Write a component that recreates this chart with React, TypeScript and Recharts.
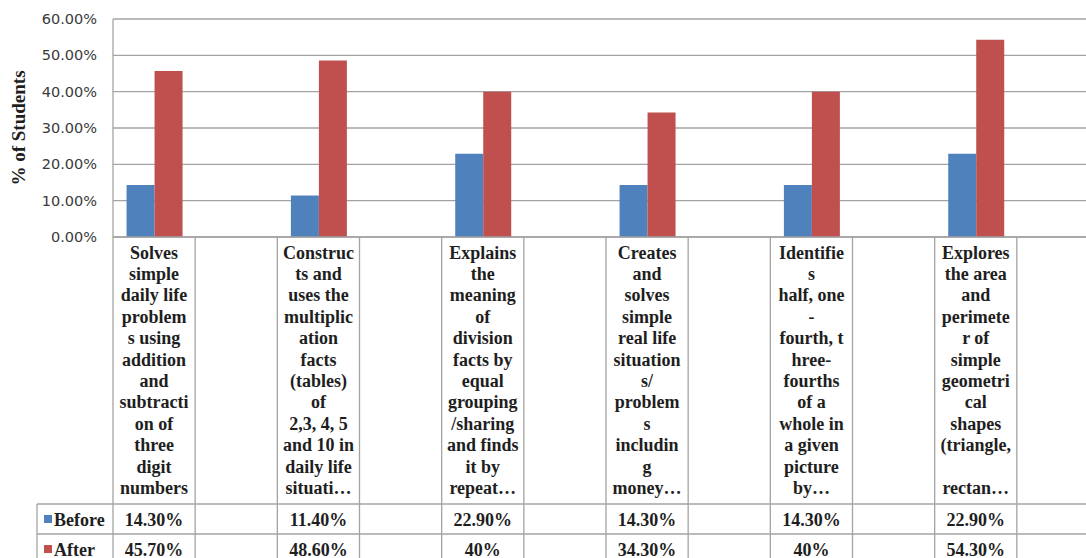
import { BarChart, Bar, XAxis, YAxis, CartesianGrid } from 'recharts';

// Skill descriptions, wrapped line by line as they appear in the data table
const skills: string[][] = [
  ['Solves', 'simple', 'daily life', 'problem', 's using', 'addition', 'and', 'subtracti', 'on of', 'three', 'digit', 'numbers'],
  ['Construc', 'ts and', 'uses the', 'multiplic', 'ation', 'facts', '(tables)', 'of', '2,3, 4, 5', 'and 10 in', 'daily life', 'situati…'],
  ['Explains', 'the', 'meaning', 'of', 'division', 'facts by', 'equal', 'grouping', '/sharing', 'and finds', 'it by', 'repeat…'],
  ['Creates', 'and', 'solves', 'simple', 'real life', 'situation', 's/', 'problem', 's', 'includin', 'g', 'money…'],
  ['Identifie', 's', 'half, one', '-', 'fourth, t', 'hree-', 'fourths', 'of a', 'whole in', 'a given', 'picture', 'by…'],
  ['Explores', 'the area', 'and', 'perimete', 'r of', 'simple', 'geometri', 'cal', 'shapes', '(triangle,', '', 'rectan…'],
];
const beforeValues = [14.3, 11.4, 22.9, 14.3, 14.3, 22.9];
const afterValues = [45.7, 48.6, 40, 34.3, 40, 54.3];
const yTicks = [0, 10, 20, 30, 40, 50, 60];
const seriesNames = ['Before', 'After'];

const BLUE = '#4f81bd';
const RED = '#c0504d';
const LINE = '#a3a3a3';
const SERIF = "'Liberation Serif', 'Times New Roman', serif";

const LABEL_ROW_H = 267;
const VALUE_ROW_H = 30;
const LINE_H = 21.4;
const HEADER_W = 76;

// every skill is followed by an empty slot, as in the source sheet
const rows = skills.flatMap((lines, i) => [
  { key: `skill${i}`, lines, before: beforeValues[i], after: afterValues[i] },
  { key: `blank${i}`, lines: [] as string[], before: null, after: null },
]);

function formatCell(v: number | null) {
  if (v == null) return '';
  return Number.isInteger(v) ? `${v}%` : `${v.toFixed(2)}%`;
}

const textStyle = {
  fontFamily: SERIF,
  fontWeight: 700,
  fontSize: 18,
  fill: '#1e1e1e',
};

function TableColumn(props: any) {
  const { x, y, payload } = props;
  const idx = rows.findIndex((r) => r.key === payload.value);
  const row = rows[idx];
  if (!row) return null;
  const half = payload.offset ?? 41;
  const left = x - half;
  const right = x + half;
  const rowTop1 = y + LABEL_ROW_H;
  const rowTop2 = rowTop1 + VALUE_ROW_H;
  const bottom = rowTop2 + VALUE_ROW_H;
  const values = [row.before, row.after];

  return (
    <g>
      <line x1={left} x2={left} y1={y} y2={bottom} stroke={LINE} strokeWidth={1.3} />
      {idx === rows.length - 1 && (
        <line x1={right} x2={right} y1={y} y2={bottom} stroke={LINE} strokeWidth={1.3} />
      )}
      <line x1={left} x2={right} y1={rowTop1} y2={rowTop1} stroke={LINE} strokeWidth={1.3} />
      <line x1={left} x2={right} y1={rowTop2} y2={rowTop2} stroke={LINE} strokeWidth={1.3} />
      <line x1={left} x2={right} y1={bottom} y2={bottom} stroke={LINE} strokeWidth={1.3} />
      {row.lines.map((t, i) => (
        <text key={i} x={x} y={y + 21.5 + i * LINE_H} textAnchor="middle" style={textStyle}>
          {t}
        </text>
      ))}
      {values.map((v, i) => (
        <text key={i} x={x} y={rowTop1 + 21.5 + i * VALUE_ROW_H} textAnchor="middle" style={textStyle}>
          {formatCell(v)}
        </text>
      ))}
      {idx === 0 && (
        <g>
          <line x1={left - HEADER_W} x2={left} y1={rowTop1} y2={rowTop1} stroke={LINE} strokeWidth={1.3} />
          <line x1={left - HEADER_W} x2={left} y1={rowTop2} y2={rowTop2} stroke={LINE} strokeWidth={1.3} />
          <line x1={left - HEADER_W} x2={left} y1={bottom} y2={bottom} stroke={LINE} strokeWidth={1.3} />
          <line x1={left - HEADER_W} x2={left - HEADER_W} y1={rowTop1} y2={bottom} stroke={LINE} strokeWidth={1.3} />
          {seriesNames.map((name, i) => (
            <g key={name}>
              <rect
                x={left - HEADER_W + 7}
                y={rowTop1 + 11 + i * VALUE_ROW_H}
                width={8}
                height={8}
                fill={i === 0 ? BLUE : RED}
              />
              <text x={left - HEADER_W + 17} y={rowTop1 + 21.5 + i * VALUE_ROW_H} textAnchor="start" style={textStyle}>
                {name}
              </text>
            </g>
          ))}
        </g>
      )}
    </g>
  );
}

export default function App() {
  return (
    <div
      style={{
        position: 'absolute',
        left: 0,
        top: 0,
        width: 1086,
        height: 558,
        overflow: 'hidden',
        background: '#fff',
      }}
    >
      <BarChart
        width={1100}
        height={570}
        data={rows}
        margin={{ top: 19, right: 1, left: 0, bottom: 0 }}
        barCategoryGap="16.5%"
        barGap={0}
      >
        <CartesianGrid vertical={false} stroke={LINE} strokeWidth={1.3} />
        <XAxis
          dataKey="key"
          interval={0}
          height={333}
          tickSize={0}
          tickMargin={0}
          axisLine={{ stroke: LINE, strokeWidth: 1.3 }}
          tick={<TableColumn />}
        />
        <YAxis
          width={113}
          domain={[0, 60]}
          ticks={yTicks}
          tickSize={0}
          tickMargin={16}
          tickFormatter={(v: number) => `${v.toFixed(2)}%`}
          tick={{ fontFamily: "'DejaVu Sans', Verdana, sans-serif", fontSize: 14.5, fill: '#3a3a3a' }}
          axisLine={{ stroke: LINE, strokeWidth: 1.3 }}
          label={{
            value: '% of Students',
            angle: -90,
            position: 'insideLeft',
            offset: 18,
            style: {
              textAnchor: 'middle',
              fontFamily: SERIF,
              fontWeight: 700,
              fontSize: 19,
              fill: '#1e1e1e',
            },
          }}
        />
        <Bar dataKey="before" name={seriesNames[0]} fill={BLUE} isAnimationActive={false} />
        <Bar dataKey="after" name={seriesNames[1]} fill={RED} isAnimationActive={false} />
      </BarChart>
    </div>
  );
}
